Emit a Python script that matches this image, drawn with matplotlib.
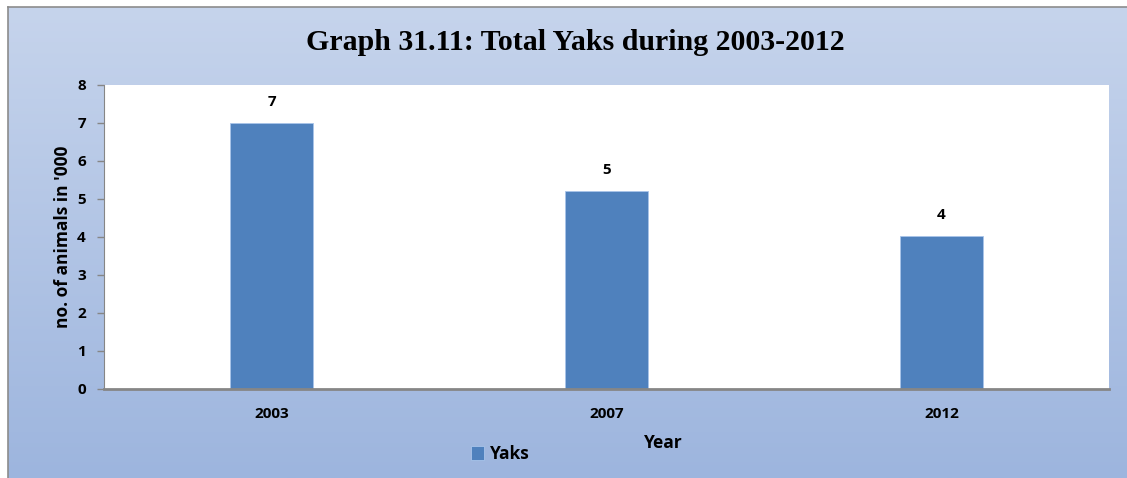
import numpy as np
import matplotlib
matplotlib.use("Agg")
import matplotlib.pyplot as plt
from matplotlib.colors import LinearSegmentedColormap

years = ["2003", "2007", "2012"]
yaks = [7.0, 5.22, 4.03]
labels = ["7", "5", "4"]

W, H = 1127, 478
fig = plt.figure(figsize=(W / 100, H / 100), dpi=100)
fig.patch.set_facecolor("white")

# gradient background of the chart frame
bg = fig.add_axes([8 / W, 0, 1 - 8 / W, (H - 7) / H])
cmap = LinearSegmentedColormap.from_list("bg", ["#9db5de", "#c6d4ec"])
bg.imshow(np.linspace(0, 1, 256).reshape(-1, 1), cmap=cmap, aspect="auto",
          origin="lower", extent=[0, 1, 0, 1])
bg.set_xlim(0, 1)
bg.set_ylim(0, 1)
bg.set_xticks([])
bg.set_yticks([])
for s in ["right", "bottom"]:
    bg.spines[s].set_visible(False)
for s in ["top", "left"]:
    bg.spines[s].set_color("#8c8c8c")
    bg.spines[s].set_linewidth(1.2)

font = ["Open Sans", "DejaVu Sans"]

ax = fig.add_axes([104 / W, (H - 389) / H, 1005 / W, 304 / H])
ax.set_facecolor("white")
x = np.arange(len(years))
bars = ax.bar(x, yaks, width=0.25, color="#4f81bd", edgecolor="#a9c4ea",
              linewidth=0.6, label="Yaks", zorder=2)
for xi, v, lab in zip(x, yaks, labels):
    ax.annotate(lab, (xi, v), xytext=(0, 10), textcoords="offset points",
                ha="center", va="bottom", fontsize=11, fontweight="bold",
                family=font)

ax.set_xlim(-0.5, 2.5)
ax.set_ylim(0, 8)
ax.set_yticks(range(0, 9))
ax.set_xticks(x)
ax.set_xticklabels(years)
for t in ax.get_xticklabels() + ax.get_yticklabels():
    t.set_fontweight("bold")
    t.set_family(font)
    t.set_fontsize(11)
ax.tick_params(axis="x", length=0, pad=13)
ax.tick_params(axis="y", length=5, width=1, color="#868686", pad=8)
for s in ["top", "right"]:
    ax.spines[s].set_visible(False)
ax.spines["left"].set_color("#868686")
ax.spines["bottom"].set_color("#868686")
ax.spines["bottom"].set_linewidth(2)
ax.set_ylabel("no. of animals in '000", fontsize=12.5, fontweight="bold",
              family=font, labelpad=4)

fig.text(575 / W, 1 - 42 / H, "Graph 31.11: Total Yaks during 2003-2012",
         ha="center", va="center", fontsize=21.5, fontweight="bold",
         family=["Liberation Serif", "DejaVu Serif"])
fig.text(663 / W, 1 - 443 / H, "Year", ha="center", va="center",
         fontsize=12.5, fontweight="bold", family=font)

fig.legend(handles=[bars], labels=["Yaks"], loc="center",
           bbox_to_anchor=(500 / W, 1 - 454 / H), frameon=False,
           prop={"family": font, "weight": "bold", "size": 12.5},
           handlelength=0.8, handleheight=0.8, handletextpad=0.3)

fig.savefig("out.png", dpi=100)
